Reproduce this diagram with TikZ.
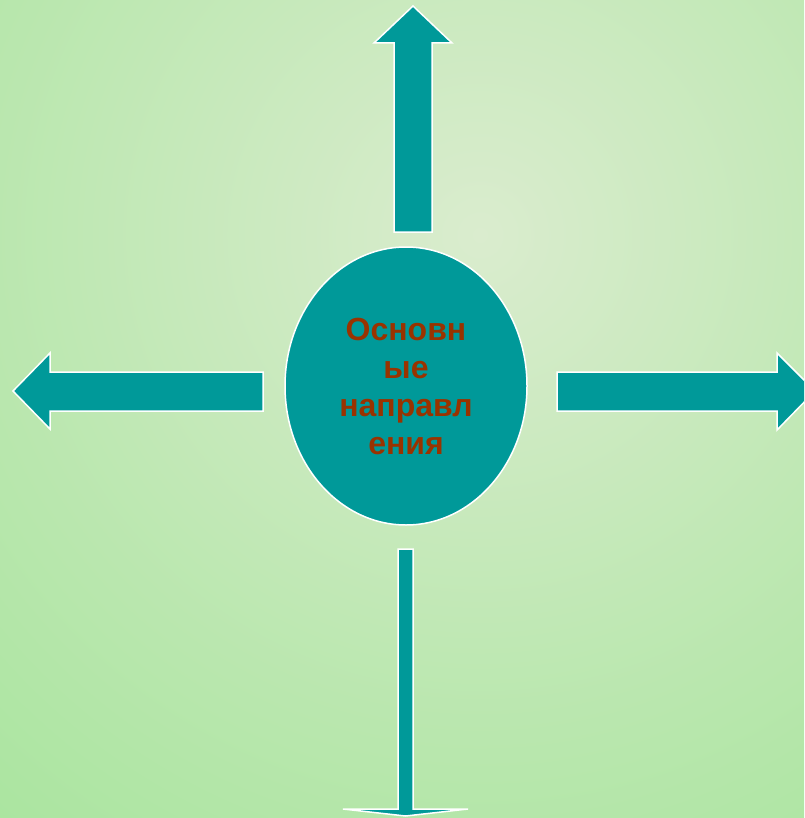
\documentclass[tikz,border=0pt]{standalone}
\usepackage{fontspec}
\setmainfont{Liberation Sans}
\usetikzlibrary{shapes.geometric}
\definecolor{bglight}{RGB}{218,236,206}
\definecolor{bggreen}{RGB}{138,224,128}
\definecolor{tealfill}{RGB}{0,153,153}
\definecolor{rusttext}{RGB}{153,51,0}
\pgfdeclareradialshading{bgshade}{\pgfpoint{0bp}{0bp}}{color(0bp)=(bglight); color(16bp)=(bglight!60!bggreen); color(44bp)=(bggreen); color(50bp)=(bggreen)}
\tikzstyle{blockarrow} = [fill=tealfill, draw=white, line width=1.5pt, line join=miter]
\tikzstyle{centre} = [ellipse, minimum width=242pt, minimum height=278pt, inner sep=0pt, fill=tealfill, draw=white, line width=1.5pt, text=rusttext, align=center, font=\bfseries\fontsize{32}{38}\selectfont]
\begin{document}
\begin{tikzpicture}[x=1pt, y=-1pt]
\useasboundingbox (0,0) rectangle (804,818);
\begin{scope}
\clip (0,0) rectangle (804,818);
\shade[shading=bgshade] (480,235) circle (760);
\end{scope}
% central ellipse
\node (main) [centre] at (406,386) {Основн\\ые\\направл\\ения};
% arrows
\begin{scope}
\clip (0,0) rectangle (804,818);
\draw [blockarrow] (394,232) -- (394,43) -- (374,43) -- (413,6) -- (452,43) -- (432,43) -- (432,232) -- cycle;
\draw [blockarrow] (263,372) -- (50,372) -- (50,353) -- (13,391) -- (50,429) -- (50,411) -- (263,411) -- cycle;
\draw [blockarrow] (557,372) -- (777,372) -- (777,353) -- (815,391) -- (777,430) -- (777,411) -- (557,411) -- cycle;
\draw [blockarrow] (398,549) -- (398,809) -- (343,809) -- (405.5,816) -- (468,809) -- (413,809) -- (413,549) -- cycle;
\end{scope}
\end{tikzpicture}
\end{document}
